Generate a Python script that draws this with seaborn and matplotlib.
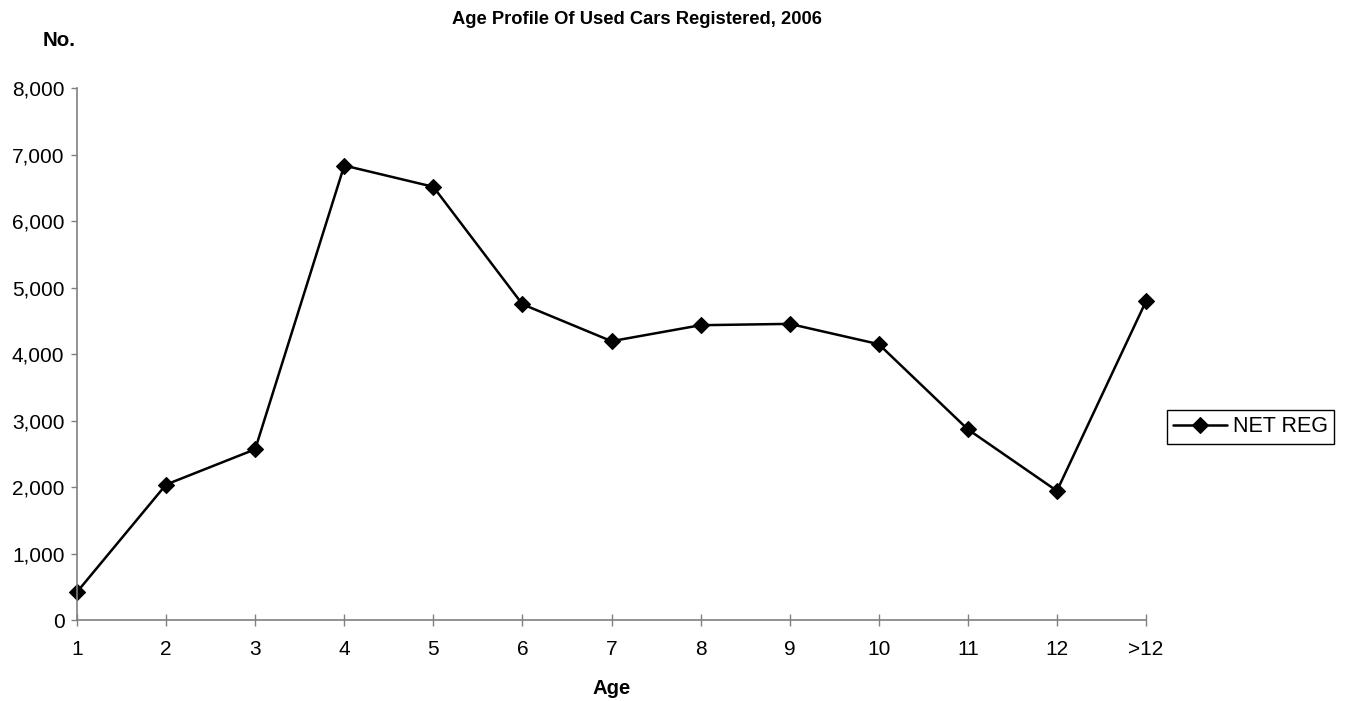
import pandas as pd
import matplotlib
matplotlib.use("Agg")
import matplotlib.pyplot as plt
import seaborn as sns

# -----------------------------
# Data
# -----------------------------
age_labels = ["1", "2", "3", "4", "5", "6", "7", "8", "9", "10", "11", "12", ">12"]
net_reg = [425, 2040, 2570, 6835, 6515, 4750, 4195, 4435, 4455, 4150, 2870, 1945, 4795]
y_ticks = [0, 1000, 2000, 3000, 4000, 5000, 6000, 7000, 8000]

df = pd.DataFrame({"Age": age_labels, "NET REG": net_reg})

sns.set_style("white")
plt.rcParams["font.family"] = ["Liberation Sans", "DejaVu Sans"]
plt.rcParams["text.color"] = "black"
plt.rcParams["xtick.labelcolor"] = "black"
plt.rcParams["ytick.labelcolor"] = "black"

fig = plt.figure(figsize=(13.47, 7.01), dpi=100)
ax = fig.add_axes([77 / 1347, 1 - 620.3 / 701, (1146 - 77) / 1347, (620.3 - 88) / 701])

sns.lineplot(data=df, x="Age", y="NET REG", ax=ax, color="black", linewidth=1.8,
             marker="D", markersize=8.5, markeredgecolor="black", markeredgewidth=0.8,
             label="NET REG", sort=False)
for line in ax.get_lines():
    line.set_clip_on(False)

ax.set_xlim(0, len(age_labels) - 1)
ax.set_ylim(0, 8000)
ax.set_yticks(y_ticks)
ax.set_yticklabels([f"{v:,}" for v in y_ticks])
ax.set_xlabel("")
ax.set_ylabel("")

for side in ["top", "right"]:
    ax.spines[side].set_visible(False)
for side in ["left", "bottom"]:
    ax.spines[side].set_color("#808080")
    ax.spines[side].set_linewidth(1.2)

ax.tick_params(axis="y", direction="out", length=4, width=1, color="#808080",
               labelsize=15, pad=5, left=True, labelcolor="black")
ax.tick_params(axis="x", direction="inout", length=9, width=1, color="#808080",
               labelsize=15, pad=10, bottom=True, labelcolor="black")

# text placed like the original
fig.text(637 / 1347, 1 - 19 / 701, "Age Profile Of Used Cars Registered, 2006",
         ha="center", va="center", fontsize=13.2, fontweight="bold", color="black")
fig.text(59 / 1347, 1 - 40 / 701, "No.", ha="center", va="center",
         fontsize=14.8, fontweight="bold", color="black")
fig.text(612 / 1347, 1 - 688 / 701, "Age", ha="center", va="center",
         fontsize=14.6, fontweight="bold", color="black")

leg = ax.legend(loc="center left", bbox_to_anchor=(1167 / 1347, 1 - 427 / 701),
                bbox_transform=fig.transFigure, borderaxespad=0, fontsize=15.5,
                frameon=True, fancybox=False, edgecolor="black", framealpha=1,
                handlelength=2.5, handletextpad=0.25, borderpad=0.3)
leg.get_frame().set_linewidth(1.0)
for t in leg.get_texts():
    t.set_color("black")

fig.savefig("out.png", dpi=100)
